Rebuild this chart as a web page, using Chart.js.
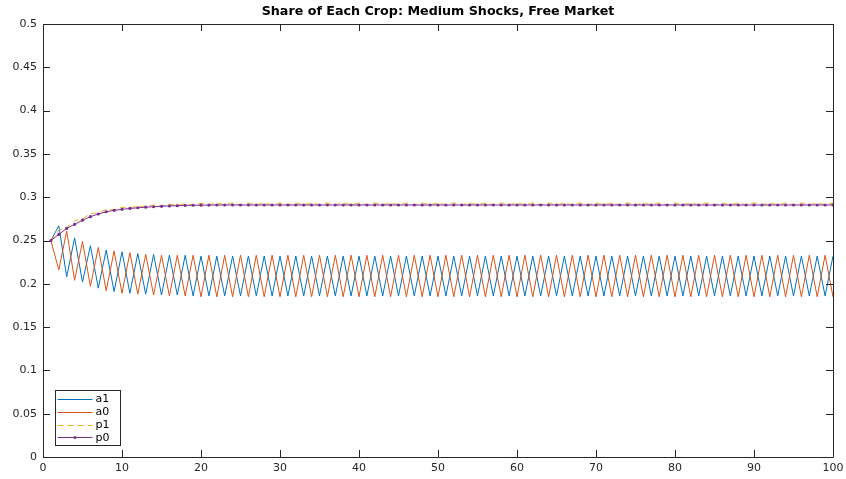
<!DOCTYPE html>
<html lang="en">
<head>
  <meta charset="UTF-8" />
  <title>Share of Each Crop</title>
  <script src="https://cdn.jsdelivr.net/npm/chart.js"></script>
  <style>
    html, body { margin: 0; padding: 0; background: #fff; }
    #chart { display: block; }
  </style>
</head>
<body>
  <canvas id="chart" width="846" height="479"></canvas>

  <script>
    const chartTitle = 'Share of Each Crop: Medium Shocks, Free Market';
    const seriesNames = ['a1', 'a0', 'p1', 'p0'];

    const steps = [
      1, 2, 3, 4, 5, 6, 7, 8, 9, 10,
      11, 12, 13, 14, 15, 16, 17, 18, 19, 20,
      21, 22, 23, 24, 25, 26, 27, 28, 29, 30,
      31, 32, 33, 34, 35, 36, 37, 38, 39, 40,
      41, 42, 43, 44, 45, 46, 47, 48, 49, 50,
      51, 52, 53, 54, 55, 56, 57, 58, 59, 60,
      61, 62, 63, 64, 65, 66, 67, 68, 69, 70,
      71, 72, 73, 74, 75, 76, 77, 78, 79, 80,
      81, 82, 83, 84, 85, 86, 87, 88, 89, 90,
      91, 92, 93, 94, 95, 96, 97, 98, 99, 100
    ];

    const a1 = [
      0.250, 0.267, 0.208, 0.253, 0.202, 0.244, 0.195, 0.239, 0.191, 0.237,
      0.189, 0.235, 0.188, 0.234, 0.187, 0.233, 0.187, 0.233, 0.186, 0.232,
      0.186, 0.232, 0.186, 0.232, 0.186, 0.232, 0.186, 0.232, 0.186, 0.232,
      0.186, 0.232, 0.186, 0.232, 0.186, 0.232, 0.186, 0.232, 0.186, 0.232,
      0.186, 0.232, 0.186, 0.232, 0.186, 0.232, 0.186, 0.232, 0.186, 0.232,
      0.186, 0.232, 0.186, 0.232, 0.186, 0.232, 0.186, 0.232, 0.186, 0.232,
      0.186, 0.232, 0.186, 0.232, 0.186, 0.232, 0.186, 0.232, 0.186, 0.232,
      0.186, 0.232, 0.186, 0.232, 0.186, 0.232, 0.186, 0.232, 0.186, 0.232,
      0.186, 0.232, 0.186, 0.232, 0.186, 0.232, 0.186, 0.232, 0.186, 0.232,
      0.186, 0.232, 0.186, 0.232, 0.186, 0.232, 0.186, 0.232, 0.186, 0.232
    ];

    const a0 = [
      0.250, 0.216, 0.261, 0.204, 0.249, 0.197, 0.242, 0.192, 0.238, 0.189,
      0.236, 0.188, 0.234, 0.187, 0.233, 0.186, 0.233, 0.186, 0.233, 0.185,
      0.233, 0.185, 0.233, 0.185, 0.233, 0.185, 0.233, 0.185, 0.233, 0.185,
      0.233, 0.185, 0.233, 0.185, 0.233, 0.185, 0.233, 0.185, 0.233, 0.185,
      0.233, 0.185, 0.233, 0.185, 0.233, 0.185, 0.233, 0.185, 0.233, 0.185,
      0.233, 0.185, 0.233, 0.185, 0.233, 0.185, 0.233, 0.185, 0.233, 0.185,
      0.233, 0.185, 0.233, 0.185, 0.233, 0.185, 0.233, 0.185, 0.233, 0.185,
      0.233, 0.185, 0.233, 0.185, 0.233, 0.185, 0.233, 0.185, 0.233, 0.185,
      0.233, 0.185, 0.233, 0.185, 0.233, 0.185, 0.233, 0.185, 0.233, 0.185,
      0.233, 0.185, 0.233, 0.185, 0.233, 0.185, 0.233, 0.185, 0.233, 0.185
    ];

    const p1 = [
      0.250, 0.262, 0.265, 0.273, 0.275, 0.281, 0.282, 0.286, 0.2855, 0.2885,
      0.2875, 0.290, 0.289, 0.291, 0.2898, 0.292, 0.2905, 0.2925, 0.291, 0.293,
      0.2912, 0.2935, 0.2912, 0.2935, 0.2912, 0.2935, 0.2912, 0.2935, 0.2912, 0.2935,
      0.2912, 0.2935, 0.2912, 0.2935, 0.2912, 0.2935, 0.2912, 0.2935, 0.2912, 0.2935,
      0.2912, 0.2935, 0.2912, 0.2935, 0.2912, 0.2935, 0.2912, 0.2935, 0.2912, 0.2935,
      0.2912, 0.2935, 0.2912, 0.2935, 0.2912, 0.2935, 0.2912, 0.2935, 0.2912, 0.2935,
      0.2912, 0.2935, 0.2912, 0.2935, 0.2912, 0.2935, 0.2912, 0.2935, 0.2912, 0.2935,
      0.2912, 0.2935, 0.2912, 0.2935, 0.2912, 0.2935, 0.2912, 0.2935, 0.2912, 0.2935,
      0.2912, 0.2935, 0.2912, 0.2935, 0.2912, 0.2935, 0.2912, 0.2935, 0.2912, 0.2935,
      0.2912, 0.2935, 0.2912, 0.2935, 0.2912, 0.2935, 0.2912, 0.2935, 0.2912, 0.2935
    ];

    const p0 = [
      0.250, 0.257, 0.264, 0.2687, 0.2735, 0.2775, 0.2806, 0.2832, 0.2848, 0.2860,
      0.2870, 0.2878, 0.2885, 0.2890, 0.2895, 0.2899, 0.2902, 0.2905, 0.2907, 0.2908,
      0.2909, 0.2910, 0.291, 0.291, 0.291, 0.291, 0.291, 0.291, 0.291, 0.291,
      0.291, 0.291, 0.291, 0.291, 0.291, 0.291, 0.291, 0.291, 0.291, 0.291,
      0.291, 0.291, 0.291, 0.291, 0.291, 0.291, 0.291, 0.291, 0.291, 0.291,
      0.291, 0.291, 0.291, 0.291, 0.291, 0.291, 0.291, 0.291, 0.291, 0.291,
      0.291, 0.291, 0.291, 0.291, 0.291, 0.291, 0.291, 0.291, 0.291, 0.291,
      0.291, 0.291, 0.291, 0.291, 0.291, 0.291, 0.291, 0.291, 0.291, 0.291,
      0.291, 0.291, 0.291, 0.291, 0.291, 0.291, 0.291, 0.291, 0.291, 0.291,
      0.291, 0.291, 0.291, 0.291, 0.291, 0.291, 0.291, 0.291, 0.291, 0.291
    ];

    const AXIS = '#262626';
    const FONT = '"DejaVu Sans", sans-serif';

    function points(ys) {
      return steps.map((x, i) => ({ x: x, y: ys[i] }));
    }

    // matlab style box, inward ticks, title and legend
    const matlabFrame = {
      id: 'matlabFrame',
      afterDatasetsDraw(chart) {
        const ctx = chart.ctx;
        const a = chart.chartArea;
        const xs = chart.scales.x, ys = chart.scales.y;
        const tl = 7;
        ctx.save();
        ctx.strokeStyle = AXIS;
        ctx.lineWidth = 1;
        ctx.beginPath();
        ctx.rect(Math.round(a.left) + 0.5, Math.round(a.top) + 0.5,
                 Math.round(a.right - a.left), Math.round(a.bottom - a.top));
        xs.ticks.forEach(t => {
          const px = Math.round(xs.getPixelForValue(t.value)) + 0.5;
          ctx.moveTo(px, a.bottom); ctx.lineTo(px, a.bottom - tl);
          ctx.moveTo(px, a.top); ctx.lineTo(px, a.top + tl);
        });
        ys.ticks.forEach(t => {
          const py = Math.round(ys.getPixelForValue(t.value)) + 0.5;
          ctx.moveTo(a.left, py); ctx.lineTo(a.left + tl, py);
          ctx.moveTo(a.right, py); ctx.lineTo(a.right - tl, py);
        });
        ctx.stroke();

        // title
        ctx.fillStyle = '#000';
        ctx.font = 'bold 12.7px ' + FONT;
        ctx.textAlign = 'center';
        ctx.textBaseline = 'middle';
        ctx.fillText(chartTitle, (a.left + a.right) / 2, 12);

        // legend
        const bx = 55.5, by = 390.5, bw = 65, bh = 55;
        ctx.fillStyle = '#fff';
        ctx.fillRect(bx, by, bw, bh);
        ctx.strokeStyle = AXIS;
        ctx.strokeRect(bx, by, bw, bh);
        ctx.font = '11px ' + FONT;
        ctx.textAlign = 'left';
        chart.data.datasets.forEach((ds, i) => {
          const y = by + 8.5 + i * 12.8;
          ctx.strokeStyle = ds.borderColor;
          ctx.lineWidth = 1;
          ctx.setLineDash(ds.borderDash || []);
          ctx.beginPath();
          ctx.moveTo(bx + 2, Math.round(y) + 0.5);
          ctx.lineTo(bx + 37, Math.round(y) + 0.5);
          ctx.stroke();
          ctx.setLineDash([]);
          if (ds.pointRadius > 0) {
            ctx.fillStyle = ds.pointBackgroundColor;
            ctx.beginPath();
            ctx.arc(bx + 19.5, Math.round(y) + 0.5, ds.pointRadius, 0, Math.PI * 2);
            ctx.fill();
          }
          ctx.fillStyle = '#000';
          ctx.fillText(ds.label, bx + 40, y + 0.5);
        });
        ctx.restore();
      }
    };

    new Chart(document.getElementById('chart'), {
      type: 'line',
      data: {
        datasets: [
          { label: seriesNames[0], data: points(a1), borderColor: '#0072BD', borderWidth: 1, pointRadius: 0, order: 3 },
          { label: seriesNames[1], data: points(a0), borderColor: '#D95319', borderWidth: 1, pointRadius: 0, order: 2 },
          { label: seriesNames[2], data: points(p1), borderColor: '#EDB120', borderWidth: 1, borderDash: [6, 4], pointRadius: 0, order: 1 },
          { label: seriesNames[3], data: points(p0), borderColor: '#7E2F8E', borderWidth: 1,
            pointRadius: 1.6, pointBackgroundColor: '#7E2F8E', pointBorderWidth: 0, order: 0 }
        ]
      },
      plugins: [matlabFrame],
      options: {
        responsive: false,
        animation: false,
        devicePixelRatio: 1,
        layout: { padding: { top: 24, right: 13, left: 0, bottom: 0 } },
        plugins: { legend: { display: false }, title: { display: false }, tooltip: { enabled: false } },
        elements: { line: { tension: 0 } },
        scales: {
          x: {
            type: 'linear', min: 0, max: 100,
            grid: { display: false, drawTicks: false },
            border: { display: false },
            afterFit: s => { s.height = 22; s.paddingRight = 0; s.paddingLeft = 0; },
            ticks: { stepSize: 10, color: AXIS, padding: 5, font: { family: FONT, size: 11 } }
          },
          y: {
            min: 0, max: 0.5,
            grid: { display: false, drawTicks: false },
            border: { display: false },
            afterFit: s => { s.width = 43; },
            ticks: {
              stepSize: 0.05, color: AXIS, padding: 6, font: { family: FONT, size: 11 },
              callback: v => String(+v.toFixed(2))
            }
          }
        }
      }
    });
  </script>
</body>
</html>
